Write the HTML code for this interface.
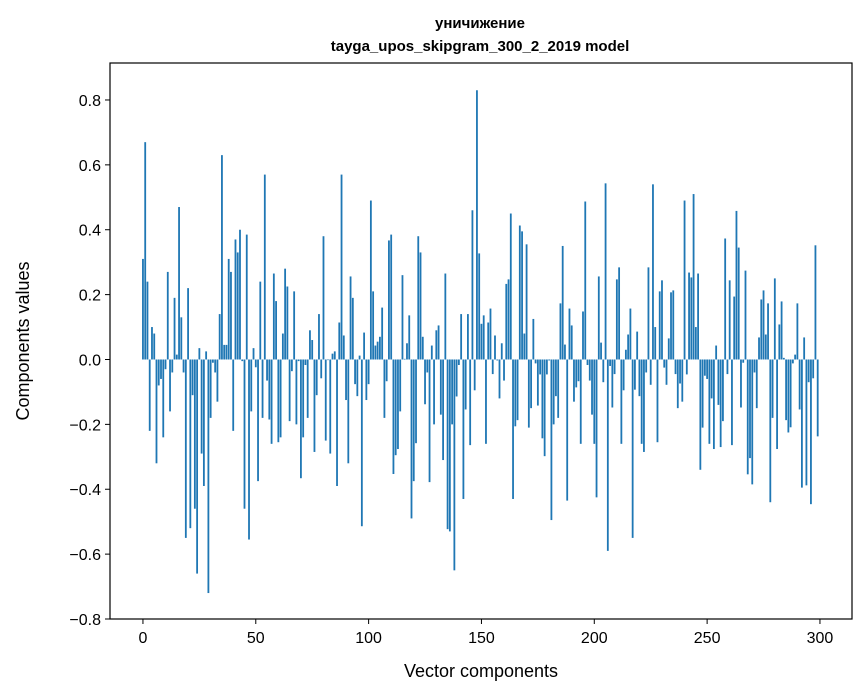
<!DOCTYPE html>
<html><head><meta charset="utf-8"><style>
body{margin:0;background:#fff;}
svg{display:block;font-family:"Liberation Sans","DejaVu Sans",sans-serif;}
</style></head><body>
<svg id="chart" width="867" height="696">
<text x="480" y="28" text-anchor="middle" font-size="15" font-weight="bold">уничижение</text>
<text x="480" y="51" text-anchor="middle" font-size="15" font-weight="bold">tayga_upos_skipgram_300_2_2019 model</text>
<g id="bars"></g>
<rect x="110" y="63" width="742" height="556" fill="none" stroke="#000" stroke-width="1.2"/>
<g id="xticks"></g>
<g id="yticks"></g>
<text x="481" y="677" text-anchor="middle" font-size="18">Vector components</text>
<text transform="translate(29,341) rotate(-90)" text-anchor="middle" font-size="18">Components values</text>
</svg>
<script>
const values = [0.31,0.67,0.24,-0.22,0.10,0.08,-0.32,-0.08,-0.06,-0.24,-0.03,0.27,-0.16,-0.04,0.19,0.015,0.47,0.13,-0.04,-0.55,
0.22,-0.52,-0.11,-0.46,-0.66,0.035,-0.29,-0.39,0.025,-0.72,-0.18,-0.01,-0.04,-0.13,0.14,0.63,0.045,0.045,0.31,0.27,
-0.22,0.37,0.33,0.40,-0.005,-0.46,0.385,-0.555,-0.16,0.035,-0.024,-0.375,0.24,-0.18,0.57,-0.065,-0.185,-0.26,0.265,0.18,
-0.255,-0.24,0.08,0.28,0.225,-0.19,-0.036,0.21,-0.2,-0.005,-0.366,-0.24,-0.017,-0.18,0.09,0.06,-0.285,-0.11,0.14,-0.058,
0.38,-0.25,-0.002,-0.29,0.018,0.025,-0.39,0.114,0.57,0.074,-0.125,-0.32,0.256,0.19,-0.076,-0.113,0.012,-0.514,0.083,-0.125,
-0.076,0.49,0.21,0.043,0.055,0.07,0.16,-0.18,-0.067,0.367,0.385,-0.353,-0.295,-0.276,-0.16,0.26,0.002,0.05,0.136,-0.49,
-0.375,-0.258,0.38,0.33,0.07,-0.138,-0.04,-0.378,0.043,-0.2,0.09,0.105,-0.17,-0.31,0.265,-0.523,-0.53,-0.2,-0.65,-0.114,
-0.017,0.14,-0.43,-0.154,0.14,-0.264,0.46,-0.095,0.83,0.327,0.11,0.136,-0.26,0.114,0.157,-0.045,0.074,-0.003,-0.12,0.05,
-0.065,0.233,0.247,0.45,-0.43,-0.206,-0.187,0.413,0.395,0.08,0.355,-0.21,-0.15,0.125,-0.012,-0.142,-0.046,-0.243,-0.298,-0.046,
-0.003,-0.495,-0.2,-0.113,-0.18,0.173,0.35,0.046,-0.435,0.157,0.105,-0.13,-0.086,-0.067,-0.26,0.148,0.487,-0.017,-0.065,-0.17,
-0.26,-0.425,0.256,0.052,-0.07,0.543,-0.59,-0.02,-0.148,-0.045,0.247,0.284,-0.26,-0.095,0.03,0.077,0.157,-0.55,-0.093,0.086,
-0.113,-0.26,-0.285,-0.04,0.284,-0.078,0.54,0.1,-0.255,0.21,0.244,-0.025,-0.078,0.065,0.207,0.213,-0.045,-0.15,-0.074,-0.13,
0.49,-0.046,0.268,0.253,0.51,0.1,0.265,-0.34,-0.21,-0.05,-0.06,-0.26,-0.12,-0.276,0.043,-0.14,-0.27,-0.19,0.373,-0.045,
0.244,-0.264,0.194,0.458,0.345,-0.148,-0.01,0.274,-0.354,-0.304,-0.385,-0.04,-0.15,0.068,0.185,0.213,0.077,0.173,-0.44,-0.18,
0.25,-0.276,0.108,0.179,0.005,-0.187,-0.225,-0.209,-0.012,0.015,0.173,-0.154,-0.395,0.068,-0.388,-0.07,-0.446,-0.058,0.352,-0.237];
const xTicks = [0,50,100,150,200,250,300];
const yTicks = [-0.8,-0.6,-0.4,-0.2,0.0,0.2,0.4,0.6,0.8];

const X0=110,X1=852,Y0=63,Y1=619;
const xMin=-14.6,xMax=314.2,yMin=-0.8,yMax=0.914;
function xs(v){return X0+(v-xMin)/(xMax-xMin)*(X1-X0);}
function ys(v){return Y1-(v-yMin)/(yMax-yMin)*(Y1-Y0);}
const NS="http://www.w3.org/2000/svg";
const gb=document.getElementById('bars');
values.forEach((v,i)=>{
  const r=document.createElementNS(NS,'rect');
  const a=ys(Math.max(v,0)),b=ys(Math.min(v,0));
  r.setAttribute('x',xs(i-0.4));
  r.setAttribute('width',xs(0.8)-xs(0));
  r.setAttribute('y',a);
  r.setAttribute('height',Math.max(b-a,0.01));
  r.setAttribute('fill','#1f77b4');
  
  
  gb.appendChild(r);
});
const gx=document.getElementById('xticks');
xTicks.forEach(t=>{
  const l=document.createElementNS(NS,'line');
  l.setAttribute('x1',xs(t));l.setAttribute('x2',xs(t));
  l.setAttribute('y1',Y1);l.setAttribute('y2',Y1+5);
  l.setAttribute('stroke','#000');
  
  
  gx.appendChild(l);
  const tx=document.createElementNS(NS,'text');
  tx.setAttribute('x',xs(t));tx.setAttribute('y',Y1+24);
  tx.setAttribute('text-anchor','middle');tx.setAttribute('font-size','16');
  tx.textContent=t;
  
  
  gx.appendChild(tx);
});
const gy=document.getElementById('yticks');
yTicks.forEach(t=>{
  const l=document.createElementNS(NS,'line');
  l.setAttribute('x1',X0-5);l.setAttribute('x2',X0);
  l.setAttribute('y1',ys(t));l.setAttribute('y2',ys(t));
  l.setAttribute('stroke','#000');
  
  
  gy.appendChild(l);
  const tx=document.createElementNS(NS,'text');
  tx.setAttribute('x',X0-9);tx.setAttribute('y',ys(t)+6);
  tx.setAttribute('text-anchor','end');tx.setAttribute('font-size','16');
  tx.textContent=(t<0?'\u2212':'')+Math.abs(t).toFixed(1);
  
  
  gy.appendChild(tx);
});
</script>
</body></html>
